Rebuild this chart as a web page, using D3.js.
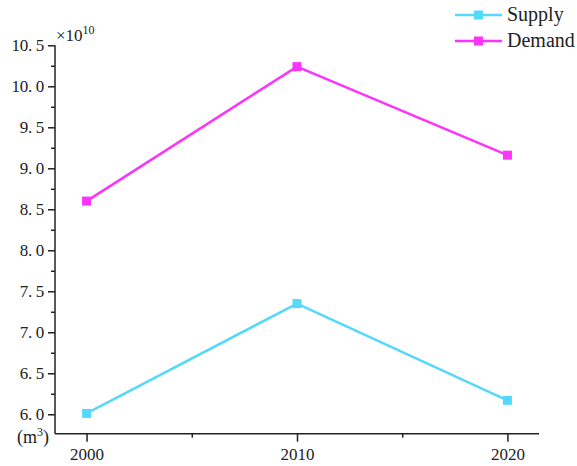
<!DOCTYPE html>
<html>
<head>
<meta charset="utf-8">
<script src="https://cdn.jsdelivr.net/npm/d3@7"></script>
<style>
  html, body { margin: 0; padding: 0; background: #fff; }
  svg { display: block; }
  text { font-family: "Liberation Serif", "Times New Roman", serif; fill: #222; }
</style>
</head>
<body>
<div id="chart"></div>
<script>
// Water supply and demand, values in units of 10^10 m³
const years = [2000, 2010, 2020];
const supply = [6.01, 7.35, 6.17];
const demand = [8.60, 10.24, 9.16];
const yTicks = [6.0, 6.5, 7.0, 7.5, 8.0, 8.5, 9.0, 9.5, 10.0, 10.5];
const yMinorTicks = [6.25, 6.75, 7.25, 7.75, 8.25, 8.75, 9.25, 9.75, 10.25];
const xTicks = [2000, 2010, 2020];
const xMinorTicks = [2005, 2015];
const seriesNames = ["Supply", "Demand"];
const seriesColors = ["#55d9fb", "#fb33fb"];

const W = 577, H = 466;
const plotLeft = 55, plotRight = 539, plotTop = 45.3, plotBottom = 433.7;

const svg = d3.select("#chart").append("svg")
  .attr("width", W).attr("height", H);

const x = d3.scaleLinear().domain([1998.5, 2021.5]).range([plotLeft, plotRight]);
const y = d3.scaleLinear().domain([5.763, 10.5]).range([plotBottom, plotTop]);

// minor ticks
const yMinor = svg.append("g").attr("transform", `translate(${plotLeft},0)`)
  .call(d3.axisLeft(y).tickValues(yMinorTicks).tickSize(4).tickFormat(""));
yMinor.select(".domain").remove();
yMinor.selectAll("line").attr("stroke", "#222").attr("stroke-width", 1.5);

const xMinor = svg.append("g").attr("transform", `translate(0,${plotBottom})`)
  .call(d3.axisBottom(x).tickValues(xMinorTicks).tickSize(4).tickFormat(""));
xMinor.select(".domain").remove();
xMinor.selectAll("line").attr("stroke", "#222").attr("stroke-width", 1.5);

// major axes
const yAxis = svg.append("g").attr("transform", `translate(${plotLeft},0)`)
  .call(d3.axisLeft(y).tickValues(yTicks).tickSize(7).tickPadding(4)
    .tickFormat(d => d3.format(".1f")(d).replace(".", ". ")));
yAxis.select(".domain").attr("d", `M0,${plotBottom}V${plotTop}`).attr("stroke", "#222").attr("stroke-width", 1.5);
yAxis.selectAll("line").attr("stroke", "#222").attr("stroke-width", 1.5);
yAxis.selectAll("text").attr("font-size", 17).attr("letter-spacing", -0.3)
  .style("font-family", "'Liberation Serif', serif").attr("fill", "#222");

const xAxis = svg.append("g").attr("transform", `translate(0,${plotBottom})`)
  .call(d3.axisBottom(x).tickValues(xTicks).tickSize(8).tickPadding(6)
    .tickFormat(d3.format("d")));
xAxis.select(".domain").attr("d", `M${plotLeft},0H${plotRight}`).attr("stroke", "#222").attr("stroke-width", 1.5);
xAxis.selectAll("line").attr("stroke", "#222").attr("stroke-width", 1.5);
xAxis.selectAll("text").attr("font-size", 17)
  .style("font-family", "'Liberation Serif', serif").attr("fill", "#222");

// exponent and unit labels
const expo = svg.append("text").attr("x", plotLeft + 1).attr("y", plotTop - 4).attr("font-size", 17);
expo.append("tspan").text("×10");
expo.append("tspan").attr("dy", -7).attr("font-size", 12).text("10");

const unit = svg.append("text").attr("x", 17).attr("y", plotBottom + 9).attr("font-size", 18);
unit.append("tspan").text("(m");
unit.append("tspan").attr("dy", -7).attr("font-size", 12).text("3");
unit.append("tspan").attr("dy", 7).text(")");

// series lines and markers
const series = [supply, demand];
const line = d3.line().x((d, i) => x(years[i])).y(d => y(d));
series.forEach((vals, k) => {
  svg.append("path").datum(vals)
    .attr("d", line).attr("fill", "none")
    .attr("stroke", seriesColors[k]).attr("stroke-width", 2.5);
  svg.selectAll(null).data(vals).enter().append("rect")
    .attr("x", (d, i) => x(years[i]) - 4.5).attr("y", d => y(d) - 4.5)
    .attr("width", 9).attr("height", 9).attr("fill", seriesColors[k]);
});

// legend
const legend = svg.append("g");
seriesNames.forEach((name, k) => {
  const ly = 15 + k * 26;
  legend.append("line").attr("x1", 455).attr("x2", 502).attr("y1", ly).attr("y2", ly)
    .attr("stroke", seriesColors[k]).attr("stroke-width", 2.5);
  legend.append("rect").attr("x", 478.5 - 4.5).attr("y", ly - 4.5)
    .attr("width", 9).attr("height", 9).attr("fill", seriesColors[k]);
  legend.append("text").attr("x", 507).attr("y", ly + 6).attr("font-size", 20).text(name);
});
</script>
</body>
</html>
